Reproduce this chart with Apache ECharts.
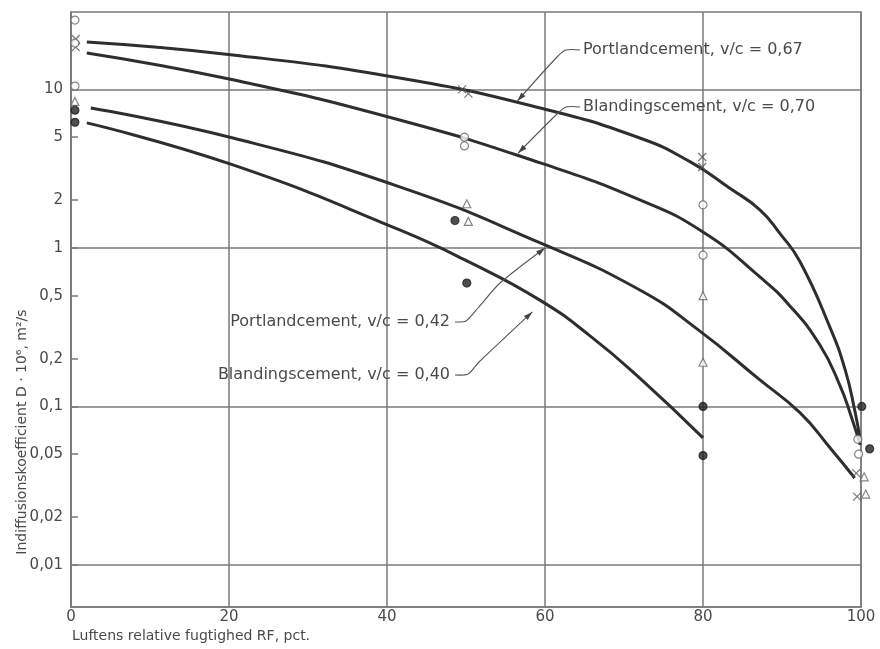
<!DOCTYPE html>
<html><head><meta charset="utf-8">
<script src="https://cdn.jsdelivr.net/npm/echarts@6/dist/echarts.min.js"></script>
<style>html,body{margin:0;padding:0;background:#fff}#c{width:880px;height:649px}</style>
</head><body><div id="c"></div>
<script>
// ---- tick labels ----
const xTicks = [0, 20, 40, 60, 80, 100];
const yTickValues = [0.01, 0.02, 0.05, 0.1, 0.2, 0.5, 1, 2, 5, 10];
const yTickLabels = ['0,01', '0,02', '0,05', '0,1', '0,2', '0,5', '1', '2', '5', '10'];
const yGridValues = [0.01, 0.1, 1, 10];

// ---- fitted curves [RF %, D] ----
const curvePortland067 = [[2.0,19.9],[20.5,16.5],[41.6,11.8],[59.4,7.64],[72.0,4.94],[78.4,3.49],[83.4,2.38],[87.2,1.74],[89.7,1.24],[92.3,0.816],[96.1,0.313],[98.0,0.170],[99.2,0.095],[99.9,0.0615]];
const curveBlanding070 = [[2.0,17.0],[20.5,11.5],[41.6,6.42],[59.4,3.44],[72.0,2.01],[80.0,1.26],[87.2,0.656],[91.0,0.431],[94.8,0.244],[97.3,0.137],[98.7,0.0884],[99.9,0.0572]];
const curvePortland042 = [[2.5,7.64],[20.5,4.94],[41.6,2.43],[59.4,1.075],[72.0,0.543],[79.4,0.304],[87.2,0.147],[92.3,0.091],[96.1,0.0547],[99.2,0.0354]];
const curveBlanding040 = [[2.0,6.15],[20.5,3.34],[41.6,1.30],[50.5,0.81],[59.4,0.467],[65.7,0.279],[72.0,0.151],[80.0,0.0633]];

// ---- measured points [RF %, D] ----
const ptsPortland067 = [[0.6,20.8],[0.6,18.5],[49.5,10.0],[50.3,9.4],[79.9,3.75],[79.9,3.24],[99.4,0.038],[99.5,0.027]];
const ptsBlanding070 = [[0.5,27.4],[0.5,19.6],[0.5,10.5],[49.8,5.0],[49.8,4.4],[80.0,1.87],[80.0,0.90],[99.6,0.062],[99.7,0.050]];
const ptsPortland042 = [[0.5,8.4],[50.1,1.9],[50.3,1.47],[80.0,0.50],[80.0,0.19],[100.4,0.036],[100.6,0.028]];
const ptsBlanding040 = [[0.5,7.4],[0.5,6.2],[48.6,1.49],[50.1,0.60],[80.0,0.10],[80.0,0.049],[100.1,0.10],[101.1,0.054]];

// ---- annotation labels and the curve points their arrows touch ----
const annotTexts = ['Portlandcement, v/c = 0,67', 'Blandingscement, v/c = 0,70', 'Portlandcement, v/c = 0,42', 'Blandingscement, v/c = 0,40'];
const annotTips = [[56.5, 8.46], [56.6, 3.97], [60.0, 1.0], [58.4, 0.395]];

const FONT = '"DejaVu Sans", sans-serif';
const TXT = '#4a4a4a';
const GRID = '#7a7a7a';
const CURVE = '#2e2e2e';

const chart = echarts.init(document.getElementById('c'), null, {renderer: 'canvas'});

function lineSeries(data, extra) {
  return Object.assign({
    type: 'line', data: data, showSymbol: false, smooth: 0.5,
    lineStyle: {color: CURVE, width: 3}, silent: true, z: 3
  }, extra || {});
}
function scatter(data, symbol, color, border) {
  return {
    type: 'scatter', data: data, symbol: symbol, symbolSize: 8, clip: false, z: 5, silent: true,
    itemStyle: {color: color, borderColor: border, borderWidth: 1.2}
  };
}

chart.setOption({
  animation: false,
  grid: {left: 71, right: 19, top: 12, bottom: 42, show: true, borderColor: GRID, borderWidth: 1.5, containLabel: false},
  xAxis: {
    type: 'value', min: 0, max: 100, interval: 20,
    axisLine: {show: true, lineStyle: {color: GRID, width: 1.5}},
    axisTick: {show: false},
    splitLine: {show: true, lineStyle: {color: GRID, width: 1.5}},
    axisLabel: {color: TXT, fontFamily: FONT, fontSize: 15, margin: 3,
      formatter: v => xTicks.indexOf(v) >= 0 ? String(v) : ''}
  },
  yAxis: {
    type: 'log', logBase: 10, min: 0.00543, max: 30.8,
    axisLine: {show: true, lineStyle: {color: GRID, width: 1.5}},
    splitLine: {show: false},
    axisTick: {show: true, inside: true, length: 7, customValues: yTickValues, lineStyle: {color: GRID, width: 1.5}},
    axisLabel: {color: TXT, fontFamily: FONT, fontSize: 15, margin: 8, customValues: yTickValues,
      formatter: v => { const i = yTickValues.findIndex(t => Math.abs(t - v) / t < 1e-6); return i >= 0 ? yTickLabels[i] : ''; }}
  },
  series: [
    lineSeries(curvePortland067, {
      markLine: {silent: true, symbol: 'none', label: {show: false}, z: 1,
        lineStyle: {color: GRID, width: 1.5, type: 'solid'},
        data: yGridValues.map(v => ({yAxis: v}))}
    }),
    lineSeries(curveBlanding070),
    lineSeries(curvePortland042),
    lineSeries(curveBlanding040),
    scatter(ptsPortland067, 'path://M0,0L10,10M10,0L0,10', 'none', '#555'),
    scatter(ptsBlanding070, 'circle', '#fff', '#666'),
    scatter(ptsPortland042, 'triangle', '#fff', '#666'),
    scatter(ptsBlanding040, 'circle', '#222', '#222')
  ]
});

// ---- annotations ----
function px(p) { return chart.convertToPixel({xAxisIndex: 0, yAxisIndex: 0}, p); }
const tips = annotTips.map(px);
const textLayout = [
  {x: 583, y: 50, align: 'left', lead: [[580, 50], [566, 50], [557, 57]]},
  {x: 583, y: 107, align: 'left', lead: [[580, 107], [566, 107], [557, 114]]},
  {x: 450, y: 322, align: 'right', lead: [[455, 322], [466, 321], [478, 308], [500, 283]]},
  {x: 450, y: 375, align: 'right', lead: [[455, 375], [468, 374], [479, 362]]}
];
const graphics = [];
textLayout.forEach((t, i) => {
  graphics.push({type: 'text', x: t.x, y: t.y, z: 10, silent: true,
    style: {text: annotTexts[i], fill: TXT, font: '16px ' + FONT, align: t.align, verticalAlign: 'middle'}});
  const pts = t.lead.concat([tips[i]]);
  graphics.push({type: 'polyline', z: 10, silent: true, shape: {points: pts, smooth: 0.25},
    style: {stroke: '#555', lineWidth: 1.1, fill: null}});
  const a = pts[pts.length - 2], b = pts[pts.length - 1];
  const dx = b[0] - a[0], dy = b[1] - a[1], L = Math.hypot(dx, dy);
  const ux = dx / L, uy = dy / L, L2 = 9, W = 2.8;
  graphics.push({type: 'polygon', z: 10, silent: true, shape: {points: [
    [b[0], b[1]],
    [b[0] - ux * L2 - uy * W, b[1] - uy * L2 + ux * W],
    [b[0] - ux * L2 + uy * W, b[1] - uy * L2 - ux * W]]},
    style: {fill: '#444'}});
});
graphics.push({type: 'text', x: 22, y: 432, rotation: Math.PI / 2, silent: true,
  style: {text: 'Indiffusionskoefficient D · 10⁶, m²/s', fill: TXT, font: '14px ' + FONT, align: 'center', verticalAlign: 'middle'}});
graphics.push({type: 'text', x: 72, y: 636, silent: true,
  style: {text: 'Luftens relative fugtighed RF, pct.', fill: TXT, font: '14px ' + FONT, align: 'left', verticalAlign: 'middle'}});
chart.setOption({graphic: graphics});
</script>
</body></html>
